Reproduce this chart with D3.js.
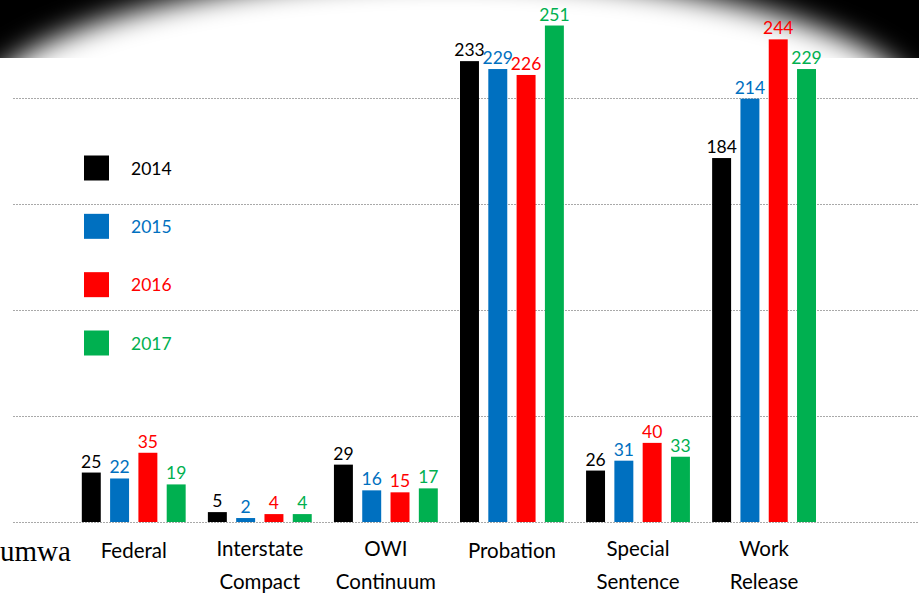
<!DOCTYPE html>
<html>
<head>
<meta charset="utf-8">
<script src="https://cdn.jsdelivr.net/npm/d3@7"></script>
<style>
  html, body { margin: 0; padding: 0; background: #fff; }
  svg { display: block; }
</style>
</head>
<body>
<svg id="chart" width="919" height="595"></svg>
<script>
// Caseload by program type, 2014–2017
const categories = [["Federal"], ["Interstate", "Compact"], ["OWI", "Continuum"], ["Probation"], ["Special", "Sentence"], ["Work", "Release"]];
const years = ["2014", "2015", "2016", "2017"];
const colors = ["#000000", "#0070C0", "#FF0000", "#00B050"];
const values2014 = [25, 5, 29, 233, 26, 184];
const values2015 = [22, 2, 16, 229, 31, 214];
const values2016 = [35, 4, 15, 226, 40, 244];
const values2017 = [19, 4, 17, 251, 33, 229];
const gridValues = [0, 53.6, 107.2, 160.8, 214.4];
const sideWord = "umwa";

const series = [values2014, values2015, values2016, values2017];
const W = 919, H = 595;
const svg = d3.select("#chart");

// dark band along the top edge with a soft bright oval
const defs = svg.append("defs");
defs.append("clipPath").attr("id", "bandClip")
  .append("rect").attr("x", 0).attr("y", 0).attr("width", W).attr("height", 58);
defs.append("filter").attr("id", "soft")
  .attr("x", "-20%").attr("y", "-50%").attr("width", "140%").attr("height", "200%")
  .append("feGaussianBlur").attr("stdDeviation", 14);

const band = svg.append("g").attr("clip-path", "url(#bandClip)");
band.append("rect").attr("x", 0).attr("y", 0).attr("width", W).attr("height", 58).attr("fill", "#000");
band.append("ellipse").attr("cx", 450).attr("cy", 118).attr("rx", 476).attr("ry", 142)
  .attr("fill", "#fff").attr("filter", "url(#soft)");

// scales
const catKeys = categories.map(c => c.join(" "));
const x0 = d3.scaleBand().domain(catKeys).range([70.7, 827.1]).padding(0);
const groupW = 113.2;
const x1 = d3.scaleBand().domain(years)
  .range([x0.bandwidth() / 2 - groupW / 2, x0.bandwidth() / 2 + groupW / 2])
  .paddingInner(0.33).paddingOuter(0.165);
const y = d3.scaleLinear().domain([0, 260]).range([522, 522 - 1.978 * 260]);

// gridlines
svg.append("g").selectAll("line").data(gridValues).join("line")
  .attr("x1", 13).attr("x2", W)
  .attr("y1", d => Math.round(y(d)) + 0.5).attr("y2", d => Math.round(y(d)) + 0.5)
  .attr("stroke", "#a9a9a9").attr("stroke-width", 1).attr("stroke-dasharray", "2,1");

// bars and value labels
const groups = svg.append("g").selectAll("g").data(catKeys).join("g")
  .attr("transform", d => `translate(${x0(d)},0)`);

groups.each(function(cat, ci) {
  const g = d3.select(this);
  const rows = years.map((yr, si) => ({ yr, si, v: series[si][ci] }));
  g.selectAll("rect").data(rows).join("rect")
    .attr("x", d => x1(d.yr))
    .attr("width", x1.bandwidth())
    .attr("y", d => y(d.v))
    .attr("height", d => y(0) - y(d.v))
    .attr("fill", d => colors[d.si]);
  g.selectAll("text").data(rows).join("text")
    .attr("x", d => x1(d.yr) + x1.bandwidth() / 2)
    .attr("y", d => y(d.v) - 5)
    .attr("text-anchor", "middle")
    .attr("font-family", "Lato, 'Open Sans', sans-serif")
    .attr("font-size", 17.5)
    .attr("fill", d => colors[d.si])
    .text(d => d.v);
});

// category labels
const catLabels = svg.append("g").selectAll("text").data(categories).join("text")
  .attr("text-anchor", "middle")
  .attr("font-family", "Lato, 'Open Sans', sans-serif")
  .attr("font-size", 20.5)
  .attr("fill", "#000")
  .attr("transform", (d, i) => `translate(${x0(catKeys[i]) + x0.bandwidth() / 2},0)`);
catLabels.selectAll("tspan").data(d => d).join("tspan")
  .attr("x", 0)
  .attr("y", (d, i, nodes) => nodes.length === 1 ? 558 : 556 + i * 33)
  .text(d => d);

// word at the left edge
svg.append("text")
  .attr("x", 0).attr("y", 561)
  .attr("text-anchor", "start")
  .attr("font-family", "'Liberation Serif', 'DejaVu Serif', serif")
  .attr("font-size", 29)
  .attr("fill", "#000")
  .text(sideWord);

// legend
const ly = d3.scalePoint().domain(years).range([168, 343]);
const legend = svg.append("g").selectAll("g").data(years).join("g")
  .attr("transform", d => `translate(0,${ly(d)})`);
legend.append("rect")
  .attr("x", 84).attr("y", -12.5).attr("width", 25).attr("height", 25)
  .attr("fill", (d, i) => colors[i]);
legend.append("text")
  .attr("x", 131).attr("y", 6.5)
  .attr("font-family", "Lato, 'Open Sans', sans-serif")
  .attr("font-size", 17.5)
  .attr("fill", (d, i) => colors[i])
  .text(d => d);
</script>
</body>
</html>
